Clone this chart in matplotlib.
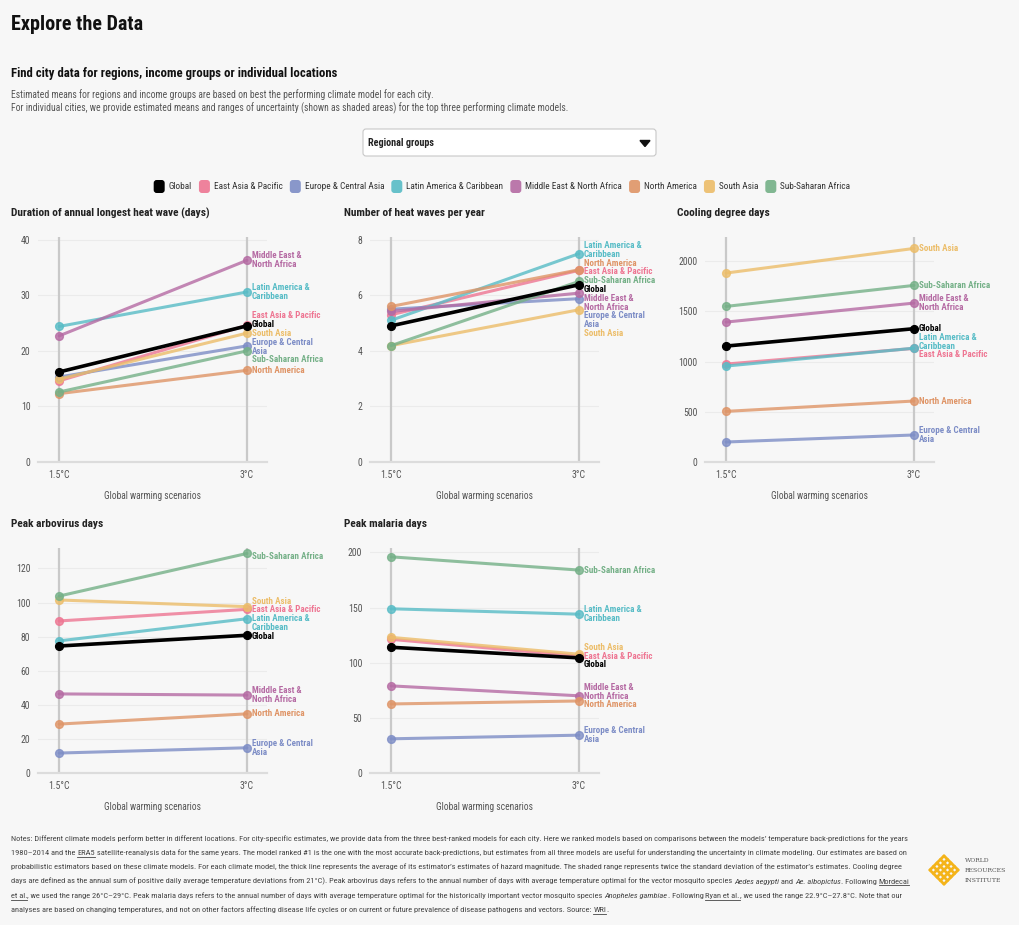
import re
import numpy as np
import matplotlib
matplotlib.use('Agg')
import matplotlib.pyplot as plt
from matplotlib.patches import FancyBboxPatch

plt.rcParams['font.family'] = ['Liberation Sans Narrow', 'Roboto Condensed', 'Noto Sans Condensed',
                               'Roboto', 'DejaVu Sans']

W, H = 1020, 925
BG = '#f7f7f7'

# series, same order everywhere
regions = ['Global', 'East Asia & Pacific', 'Europe & Central Asia', 'Latin America & Caribbean',
           'Middle East & North Africa', 'North America', 'South Asia', 'Sub-Saharan Africa']
end_labels = ['Global', 'East Asia & Pacific', 'Europe & Central\nAsia', 'Latin America &\nCaribbean',
              'Middle East &\nNorth Africa', 'North America', 'South Asia', 'Sub-Saharan Africa']
colors = ['#000000', '#ee7592', '#7d8dc6', '#57bcc6', '#b56aa3', '#df9466', '#ecbd69', '#74b087']
scenarios = ['1.5°C', '3°C']

# values at 1.5°C and at 3°C
heatwave_duration_15 = [16.2, 14.6, 15.3, 24.4, 22.7, 12.3, 14.9, 12.6]
heatwave_duration_3 = [24.5, 24.6, 20.9, 30.6, 36.3, 16.5, 23.2, 20.0]
heatwave_count_15 = [4.9, 5.3, 5.5, 5.1, 5.42, 5.6, 4.19, 4.19]
heatwave_count_3 = [6.38, 6.9, 5.88, 7.5, 6.08, 6.92, 5.48, 6.5]
cooling_dd_15 = [1154, 975, 199, 955, 1393, 504, 1881, 1549]
cooling_dd_3 = [1327, 1131, 269, 1133, 1582, 607, 2126, 1758]
arbovirus_15 = [74.5, 89.2, 11.7, 77.5, 46.4, 28.7, 101.5, 103.8]
arbovirus_3 = [80.8, 96.0, 14.8, 90.5, 45.7, 34.7, 97.6, 128.8]
malaria_15 = [114, 121.2, 31, 148.9, 79, 62.6, 123, 196]
malaria_3 = [104.4, 106, 34.3, 144, 70, 65.3, 107.7, 184]

panel_titles = ['Duration of annual longest heat wave (days)', 'Number of heat waves per year',
                'Cooling degree days', 'Peak arbovirus days', 'Peak malaria days']
panel_15 = [heatwave_duration_15, heatwave_count_15, cooling_dd_15, arbovirus_15, malaria_15]
panel_3 = [heatwave_duration_3, heatwave_count_3, cooling_dd_3, arbovirus_3, malaria_3]
panel_ticks = [[0, 10, 20, 30, 40], [0, 2, 4, 6, 8], [0, 500, 1000, 1500, 2000],
               [0, 20, 40, 60, 80, 100, 120], [0, 50, 100, 150, 200]]
panel_ymax = [40.5, 8.1, 2240, 132, 204]
panel_boxes = [(38, 237), (370, 237), (705, 237), (38, 548), (370, 548)]
PW, PH = 229, 225

notes_lines = [
    "Notes: Different climate models perform better in different locations. For city-specific estimates, we provide data from the three best-ranked models for each city. Here we ranked models based on comparisons between the models’ temperature back-predictions for the years",
    "1980–2014 and the [ERA5] satellite-reanalysis data for the same years. The model ranked #1 is the one with the most accurate back-predictions, but estimates from all three models are useful for understanding the uncertainty in climate modeling. Our estimates are based on",
    "probabilistic estimators based on these climate models. For each climate model, the thick line represents the average of its estimator’s estimates of hazard magnitude. The shaded range represents twice the standard deviation of the estimator’s estimates. Cooling degree",
    "days are defined as the annual sum of positive daily average temperature deviations from 21°C). Peak arbovirus days refers to the annual number of days with average temperature optimal for the vector mosquito species {Aedes aegypti} and {Ae. albopictus}. Following [Mordecai]",
    "[et al.], we used the range 26°C–29°C. Peak malaria days refers to the annual number of days with average temperature optimal for the historically important vector mosquito species {Anopheles gambiae}. Following [Ryan et al.], we used the range 22.9°C–27.8°C. Note that our",
    "analyses are based on changing temperatures, and not on other factors affecting disease life cycles or on current or future prevalence of disease pathogens and vectors. Source: [WRI].",
]

fig = plt.figure(figsize=(W / 100, H / 100), dpi=100, facecolor=BG)
renderer = fig.canvas.get_renderer()

# overlay axes in pixel coordinates (y down) for all texts and decorations
ov = fig.add_axes([0, 0, 1, 1], zorder=10)
ov.set_xlim(0, W)
ov.set_ylim(H, 0)
ov.axis('off')


def px_axes(x0, y0, w, h):
    return fig.add_axes([x0 / W, 1 - (y0 + h) / H, w / W, h / H])


def text_width(txt, **kw):
    # measure with a sentinel so that spaces at the ends are counted
    t1 = ov.text(0, 0, txt + '|', **kw)
    t2 = ov.text(0, 0, '|', **kw)
    w = t1.get_window_extent(renderer).width - t2.get_window_extent(renderer).width
    t1.remove()
    t2.remove()
    return w


def fit_size(txt, target, size, **kw):
    # font size that makes txt about target pixels wide
    return size * target / text_width(txt, fontsize=size, **kw)


def dodge(centers, heights, top, bottom):
    # 1-d label placement: merge overlapping labels into clusters centred on their targets
    order = np.argsort(centers, kind='stable')
    clusters = []
    for i in order:
        clusters.append([[i], 0.0])
        while True:
            members = clusters[-1][0]
            hs = [heights[j] for j in members]
            offs = np.cumsum([0] + hs)[:-1]
            t = np.mean([centers[j] - heights[j] / 2 - o for j, o in zip(members, offs)])
            t = min(max(t, top), bottom - sum(hs))
            clusters[-1][1] = t
            if len(clusters) > 1:
                prev = clusters[-2]
                prev_bottom = prev[1] + sum(heights[j] for j in prev[0])
                if prev_bottom > t:
                    prev[0].extend(members)
                    clusters.pop()
                    continue
            break
    tops = {}
    for members, t in clusters:
        for j in members:
            tops[j] = t
            t += heights[j]
    return [tops[i] for i in range(len(centers))]


# header
title = 'Explore the Data'
ov.text(11, 25, title, fontsize=fit_size(title, 133, 14, fontweight='bold'),
        fontweight='bold', color='#111111', va='center')
sub = 'Find city data for regions, income groups or individual locations'
ov.text(11, 73, sub, fontsize=fit_size(sub, 326, 9, fontweight='bold'),
        fontweight='bold', color='#111111', va='center')
desc1 = 'Estimated means for regions and income groups are based on best the performing climate model for each city.'
desc2 = 'For individual cities, we provide estimated means and ranges of uncertainty (shown as shaded areas) for the top three performing climate models.'
desc_fs = fit_size(desc2, 555, 6)
ov.text(11, 95, desc1, fontsize=desc_fs, color='#555555', va='center')
ov.text(11, 108, desc2, fontsize=desc_fs, color='#555555', va='center')

# dropdown
ov.add_patch(FancyBboxPatch((363, 129), 293, 27, boxstyle='round,pad=0,rounding_size=3',
                            fc='white', ec='#c8c8c8', lw=0.8))
ov.text(368, 143.5, 'Regional groups', fontsize=fit_size('Regional groups', 66, 7, fontweight='bold'),
        fontweight='bold', color='#222222', va='center')
ov.fill([640, 650, 645], [140.5, 140.5, 146.5], color='#111111')

# legend
sw, gap_in, gap_out = 11, 4, 7
leg_fs = 6.8
leg_fs = leg_fs * (698 - len(regions) * (sw + gap_in) - 7 * gap_out) / sum(
    text_width(r, fontsize=leg_fs) for r in regions)
widths = [text_width(r, fontsize=leg_fs) for r in regions]
total = sum(sw + gap_in + w for w in widths) + gap_out * (len(regions) - 1)
x = 502 - total / 2
for r, c, w in zip(regions, colors, widths):
    ov.add_patch(FancyBboxPatch((x, 180), sw, 13, boxstyle='round,pad=0,rounding_size=3',
                                fc=c, ec='none', alpha=0.9 if c != '#000000' else 1))
    ov.text(x + sw + gap_in, 186.5, r, fontsize=leg_fs, color='#333333', va='center')
    x += sw + gap_in + w + gap_out

# panels
lh = 8.8
title_fs = fit_size(panel_titles[0], 201, 8, fontweight='bold')
xlab_fs = fit_size('Global warming scenarios', 98, 7)
title_pos = [(11, 213), (344, 213), (677, 213), (11, 524), (344, 524)]
for k in range(5):
    x0, y0 = panel_boxes[k]
    ax = px_axes(x0, y0, PW, PH)
    ax.set_facecolor('none')
    ax.set_xlim(-0.112, 1.107)
    ax.set_ylim(0, panel_ymax[k])
    for s in ['top', 'right', 'left']:
        ax.spines[s].set_visible(False)
    ax.spines['bottom'].set_color('#dcdcdc')
    ax.spines['bottom'].set_linewidth(1.6)
    ax.set_yticks(panel_ticks[k])
    ax.set_xticks([0, 1])
    ax.set_xticklabels(scenarios)
    ax.tick_params(length=0, labelsize=7, labelcolor='#555555')
    ax.tick_params(axis='y', pad=5.5)
    ax.tick_params(axis='x', pad=6)
    ax.grid(axis='y', color='#ebebeb', lw=0.8)
    ax.grid(axis='x', visible=False)
    ax.set_axisbelow(True)
    ax.axvline(0, color='#c9c9c9', lw=1.6, zorder=1)
    ax.axvline(1, color='#c9c9c9', lw=1.6, zorder=1)

    order = list(range(1, len(regions))) + [0]
    for i in order:
        glob = i == 0
        ax.plot([0, 1], [panel_15[k][i], panel_3[k][i]], color=colors[i],
                lw=2.6 if glob else 2.2, alpha=1 if glob else 0.8,
                marker='o', ms=5.6, solid_capstyle='round', zorder=4 if glob else 3)

    ov.text(title_pos[k][0], title_pos[k][1], panel_titles[k], fontsize=title_fs,
            fontweight='bold', color='#222222', va='center')
    ov.text(x0 + PW / 2, y0 + PH + 34, 'Global warming scenarios', fontsize=xlab_fs,
            color='#555555', ha='center', va='center')

    # end labels, dodged so they do not collide
    pts = ax.transData.transform(np.column_stack([np.ones(len(regions)), panel_3[k]]))
    centers = H - pts[:, 1]
    lines = [lab.split('\n') for lab in end_labels]
    heights = [len(l) * lh for l in lines]
    tops = dodge(list(centers), heights, y0 + 4, y0 + PH)
    for i in range(len(regions)):
        for n, line in enumerate(lines[i]):
            ov.text(pts[i, 0] + 5, tops[i] + (n + 0.5) * lh, line, fontsize=6.5,
                    fontweight='bold', color=colors[i], va='center')

# notes with underlined links and italic species names
notes_fs = fit_size(notes_lines[0], 903, 6)
for n, line in enumerate(notes_lines):
    y = 841 + n * 14.2
    x = 11
    for piece in re.split(r'(\[[^\]]*\]|\{[^}]*\})', line):
        if not piece:
            continue
        style = 'normal'
        underline = False
        if piece.startswith('['):
            piece, underline = piece[1:-1], True
        elif piece.startswith('{'):
            piece, style = piece[1:-1], 'italic'
        ov.text(x, y, piece, fontsize=notes_fs, style=style, color='#444444', va='baseline')
        w = text_width(piece, fontsize=notes_fs, style=style)
        if underline:
            ov.plot([x, x + w], [y + 1.8, y + 1.8], color='#444444', lw=0.6)
        x += w

# WRI logo: yellow diamond lattice plus the name
cx, cy, r = 944, 870, 10
for k in range(5):
    u = -r + k * r / 2
    for seg in [np.array([[u, -r], [u, r]]), np.array([[-r, u], [r, u]])]:
        xs = cx + (seg[:, 0] - seg[:, 1]) / np.sqrt(2)
        ys = cy - (seg[:, 0] + seg[:, 1]) / np.sqrt(2)
        ov.plot(xs, ys, color='#f4b41a', lw=2.0, solid_capstyle='round')
for n, word in enumerate(['WORLD', 'RESOURCES', 'INSTITUTE']):
    ov.text(965, 861 + n * 10, word, fontsize=4.4, family='DejaVu Serif', color='#555555', va='center')

fig.savefig('out.png', dpi=100, facecolor=BG)
